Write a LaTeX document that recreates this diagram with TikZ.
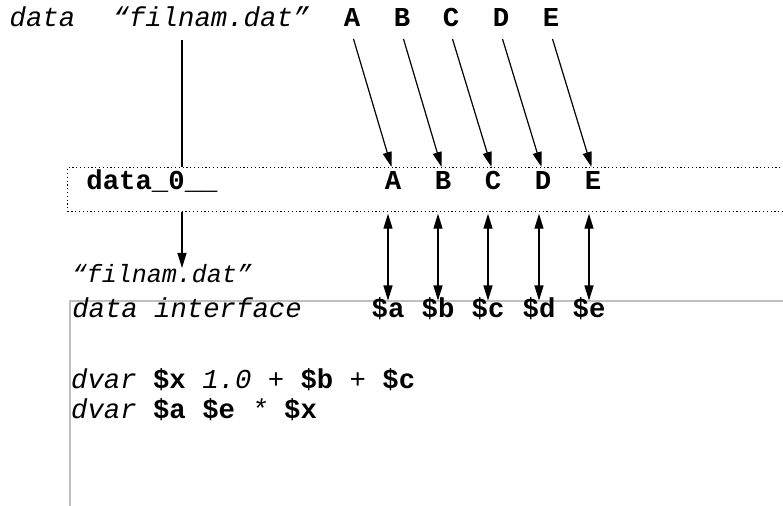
\documentclass[tikz,border=0pt]{standalone}
\usepackage{fontspec}
\setmonofont{Liberation Mono}
\usetikzlibrary{arrows.meta,calc}
\newcommand{\cfont}{\ttfamily\fontsize{27.3bp}{30bp}\selectfont}
\newcommand{\sfontx}{\ttfamily\fontsize{25bp}{28bp}\selectfont}
\begin{document}
\begin{tikzpicture}[x=1bp,y=-1bp,
  txt/.style={font=\cfont, inner sep=0pt, anchor=base},
  itx/.style={font=\cfont\itshape, inner sep=0pt, anchor=base},
  bfx/.style={font=\cfont\bfseries, inner sep=0pt, anchor=base},
  sitx/.style={font=\sfontx\itshape, inner sep=0pt, anchor=base},
  arr/.style={-{Triangle[length=15bp,width=9bp]}, line width=1.2bp},
  darr/.style={{Triangle[length=15bp,width=9bp]}-{Triangle[length=15bp,width=9bp]}, line width=1.2bp},
  dotbox/.style={draw, line width=1.2bp, dash pattern=on 1.2bp off 2.6bp, inner sep=0pt},
  panel/.style={draw=black!25, line width=1.6bp}
]
\useasboundingbox (0,0) rectangle (783,506);
\clip (0,0) rectangle (783,506);

% top row
\node[itx] (d1) at (42.5,27) {data};
\node[itx] (tf) at (211,27) {“filnam.dat”};
\node[bfx] (tA) at (352,27) {A};
\node[bfx] (tB) at (402,27) {B};
\node[bfx] (tC) at (451,27) {C};
\node[bfx] (tD) at (501,27) {D};
\node[bfx] (tE) at (551,27) {E};

% dotted box
\node[dotbox, minimum width=760bp, minimum height=44bp, anchor=north west] (box) at (67,167) {};
\node[bfx] (d0) at (152,190) {data\_0\_\_};
\node[bfx] (bA) at (393,190) {A};
\node[bfx] (bB) at (443,190) {B};
\node[bfx] (bC) at (493,190) {C};
\node[bfx] (bD) at (543,190) {D};
\node[bfx] (bE) at (593,190) {E};

% file name below
\node[sitx] (ff) at (162,283) {“filnam.dat”};
\coordinate (c1) at (182,40);
\coordinate (c2) at (182,268);
\draw[line width=1.2bp] (c1) -- (c1 |- box.north);
\draw[arr] (c1 |- box.south) -- (c2);

% diagonal arrows
\foreach \s/\t in {tA/bA,tB/bB,tC/bC,tD/bD,tE/bE}{
  \draw[arr] ([xshift=1.5bp,yshift=-12bp]\s.base) -- ([xshift=-1.5bp]box.north -| \t);
}

% code panel
\coordinate (pt) at (70,301);
\draw[panel] (70,506) -- (pt) -- (790,301);
\node[itx] (di) at (187,317) {data interface};
\node[bfx] (da) at (388,317) {\$a};
\node[bfx] (db) at (438,317) {\$b};
\node[bfx] (dc) at (488,317) {\$c};
\node[bfx] (dd) at (539,317) {\$d};
\node[bfx] (de) at (589,317) {\$e};
\node[txt, anchor=base west] (l1) at (71,388) {\textit{dvar} \textbf{\$x} \textit{1.0 +} \textbf{\$b} \textit{+} \textbf{\$c}};
\node[txt, anchor=base west] (l2) at (71,418) {\textit{dvar} \textbf{\$a} \textbf{\$e} \textit{*} \textbf{\$x}};

% double arrows
\foreach \n in {da,db,dc,dd,de}{
  \draw[darr] ([yshift=-1.5bp]box.south -| \n) -- ([yshift=0.5bp]pt -| \n);
}
\end{tikzpicture}
\end{document}
